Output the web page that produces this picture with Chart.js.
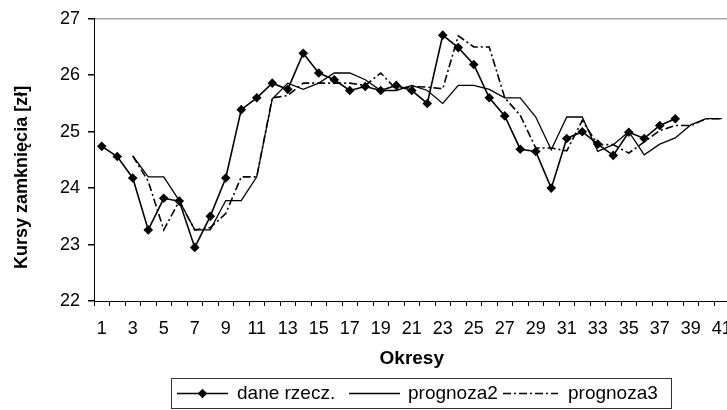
<!DOCTYPE html>
<html><head><meta charset="utf-8">
<script src="https://cdn.jsdelivr.net/npm/chart.js@4.4.1/dist/chart.umd.min.js"></script>
<style>html,body{margin:0;padding:0;overflow:hidden;background:#fff;width:727px;height:410px}
#wrap{width:760px;height:410px;position:relative}</style></head>
<body><div id="wrap"><canvas id="c" width="760" height="410"></canvas></div>
<script>
const categories = ['1','2','3','4','5','6','7','8','9','10','11','12','13','14','15','16','17','18','19','20','21','22','23','24','25','26','27','28','29','30','31','32','33','34','35','36','37','38','39','40','41'];
const daneRzecz = [24.74,24.56,24.18,23.26,23.82,23.77,22.95,23.50,24.18,25.39,25.60,25.86,25.75,26.39,26.04,25.92,25.73,25.80,25.73,25.82,25.73,25.50,26.71,26.49,26.19,25.60,25.28,24.69,24.65,24.00,24.88,25.00,24.78,24.58,24.99,24.88,25.11,25.23,null,null,null];
const prognoza2 = [null,null,24.57,24.20,24.20,23.78,23.26,23.26,23.78,23.78,24.20,25.58,25.86,25.75,25.86,26.04,26.04,25.92,25.73,25.73,25.82,25.73,25.50,25.82,25.82,25.75,25.60,25.60,25.26,24.68,25.26,25.26,24.65,24.77,25.00,24.59,24.78,24.89,25.12,25.23,25.23];
const prognoza3 = [null,null,24.57,24.12,23.26,23.77,23.26,23.30,23.55,24.20,24.20,25.60,25.64,25.86,25.86,25.86,25.86,25.82,26.04,25.75,25.80,25.79,25.76,26.70,26.50,26.50,25.60,25.29,24.71,24.71,24.66,25.20,24.77,24.77,24.62,24.82,25.02,25.11,25.11,25.23,25.23];
const yTicks = [22,23,24,25,26,27];
const seriesNames = ['dane rzecz.','prognoza2','prognoza3'];
const xTitle = 'Okresy';
const yTitle = 'Kursy zamknięcia [zł]';

const FONT = "'Liberation Sans', Arial, sans-serif";

const legendPlugin = {
  id: 'boxLegend',
  afterDraw(chart) {
    const ctx = chart.ctx;
    ctx.save();
    ctx.strokeStyle = '#333';
    ctx.lineWidth = 1;
    ctx.setLineDash([]);
    ctx.strokeRect(171.5, 378.5, 500, 30);
    const cy = 393.5;
    const items = [
      {x0: 177, x1: 228, tx: 237},
      {x0: 349, x1: 400, tx: 408},
      {x0: 503, x1: 558, tx: 568}
    ];
    ctx.font = '19px ' + FONT;
    ctx.textBaseline = 'middle';
    ctx.textAlign = 'left';
    items.forEach((it, i) => {
      const ds = chart.data.datasets[i];
      ctx.strokeStyle = ds.borderColor;
      ctx.lineWidth = ds.borderWidth;
      ctx.setLineDash(ds.borderDash || []);
      ctx.beginPath();
      ctx.moveTo(it.x0, cy);
      ctx.lineTo(it.x1, cy);
      ctx.stroke();
      ctx.setLineDash([]);
      if (ds.pointRadius > 0) {
        const mx = (it.x0 + it.x1) / 2, r = ds.pointRadius;
        ctx.fillStyle = '#000';
        ctx.beginPath();
        ctx.moveTo(mx, cy - r); ctx.lineTo(mx + r, cy); ctx.lineTo(mx, cy + r); ctx.lineTo(mx - r, cy);
        ctx.closePath(); ctx.fill();
      }
      ctx.fillStyle = '#000';
      ctx.fillText(seriesNames[i], it.tx, cy);
    });
    ctx.restore();
  }
};

new Chart(document.getElementById('c'), {
  type: 'line',
  data: {
    labels: categories,
    datasets: [
      {label: seriesNames[0], data: daneRzecz, borderColor: '#000', backgroundColor: '#000', borderWidth: 1.6,
       pointStyle: 'rectRot', pointRadius: 4.8, pointBackgroundColor: '#000', pointBorderColor: '#000', pointBorderWidth: 0, tension: 0},
      {label: seriesNames[1], data: prognoza2, borderColor: '#000', borderWidth: 1.3, pointRadius: 0, tension: 0},
      {label: seriesNames[2], data: prognoza3, borderColor: '#000', borderWidth: 1.6, borderDash: [8,3,2,3], pointRadius: 0, tension: 0}
    ]
  },
  options: {
    responsive: false,
    animation: false,
    events: [],
    layout: {padding: {left: 0, right: 30.5, top: 16, bottom: 40}},
    plugins: {legend: {display: false}, tooltip: {enabled: false}},
    scales: {
      x: {
        type: 'category',
        offset: true,
        grid: {offset: true, drawOnChartArea: false, color: '#000', tickColor: '#000', tickLength: 5},
        border: {color: '#000', width: 1},
        ticks: {autoSkip: false, maxRotation: 0, minRotation: 0, padding: 12, color: '#000',
                font: {family: FONT, size: 18},
                callback: (v, i) => (i % 2 === 0 ? categories[i] : '')},
        title: {display: true, text: xTitle, color: '#000', font: {family: FONT, size: 19, weight: 'bold'}, padding: {top: 0, bottom: 0}},
        afterFit: s => { s.height = 69; }
      },
      y: {
        min: 22, max: 27,
        afterBuildTicks: s => { s.ticks = yTicks.map(v => ({value: v})); },
        grid: {color: c => (c.tick && c.tick.value === 27 ? '#a6a6a6' : 'rgba(0,0,0,0)'), tickColor: '#000', tickLength: 6, lineWidth: 1.5},
        border: {color: '#000', width: 1},
        ticks: {padding: 8, color: '#000', font: {family: FONT, size: 18}},
        title: {display: true, text: yTitle + '       ', color: '#000', font: {family: FONT, size: 18, weight: 'bold'}, padding: {top: 11, bottom: 0}},
        afterFit: s => { s.width = 94; }
      }
    }
  },
  plugins: [legendPlugin]
});
</script></body></html>
